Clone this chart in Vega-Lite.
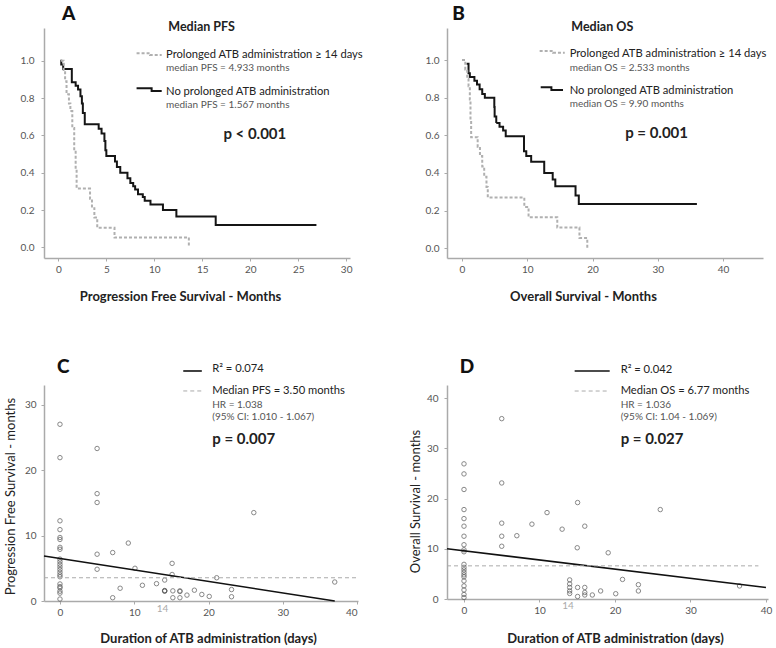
{
  "$schema": "https://vega.github.io/schema/vega-lite/v6.json",
  "autosize": "none",
  "padding": {"left": 44, "top": 28, "right": 732, "bottom": 620},
  "background": "white",
  "columns": 2,
  "spacing": {"row": 127, "column": 89},
  "bounds": "flush",
  "align": "each",
  "datasets": {
    "kmA": [
      {"grp": "no", "part": "curve", "x": 0.2, "y": 1.0},
      {"grp": "no", "part": "curve", "x": 0.3, "y": 0.98},
      {"grp": "no", "part": "curve", "x": 0.5, "y": 0.955},
      {"grp": "no", "part": "curve", "x": 1.4, "y": 0.885},
      {"grp": "no", "part": "curve", "x": 1.8, "y": 0.865},
      {"grp": "no", "part": "curve", "x": 2.05, "y": 0.845},
      {"grp": "no", "part": "curve", "x": 2.3, "y": 0.81},
      {"grp": "no", "part": "curve", "x": 2.45, "y": 0.77},
      {"grp": "no", "part": "curve", "x": 2.55, "y": 0.72},
      {"grp": "no", "part": "curve", "x": 2.75, "y": 0.66},
      {"grp": "no", "part": "curve", "x": 4.2, "y": 0.635},
      {"grp": "no", "part": "curve", "x": 4.5, "y": 0.61},
      {"grp": "no", "part": "curve", "x": 4.8, "y": 0.57},
      {"grp": "no", "part": "curve", "x": 4.9, "y": 0.52},
      {"grp": "no", "part": "curve", "x": 5.0, "y": 0.49},
      {"grp": "no", "part": "curve", "x": 5.9, "y": 0.46},
      {"grp": "no", "part": "curve", "x": 6.1, "y": 0.43},
      {"grp": "no", "part": "curve", "x": 6.45, "y": 0.4},
      {"grp": "no", "part": "curve", "x": 7.2, "y": 0.37},
      {"grp": "no", "part": "curve", "x": 7.5, "y": 0.345},
      {"grp": "no", "part": "curve", "x": 7.8, "y": 0.328},
      {"grp": "no", "part": "curve", "x": 8.0, "y": 0.31},
      {"grp": "no", "part": "curve", "x": 8.3, "y": 0.285},
      {"grp": "no", "part": "curve", "x": 8.8, "y": 0.27},
      {"grp": "no", "part": "curve", "x": 9.0, "y": 0.25},
      {"grp": "no", "part": "curve", "x": 9.6, "y": 0.23},
      {"grp": "no", "part": "curve", "x": 10.9, "y": 0.2},
      {"grp": "no", "part": "curve", "x": 12.3, "y": 0.165},
      {"grp": "no", "part": "curve", "x": 16.4, "y": 0.12},
      {"grp": "no", "part": "curve", "x": 26.9, "y": 0.12},
      {"grp": "yes", "part": "curve", "x": 0.25, "y": 1.0},
      {"grp": "yes", "part": "curve", "x": 0.55, "y": 0.95},
      {"grp": "yes", "part": "curve", "x": 0.7, "y": 0.89},
      {"grp": "yes", "part": "curve", "x": 0.85, "y": 0.82},
      {"grp": "yes", "part": "curve", "x": 1.1, "y": 0.77},
      {"grp": "yes", "part": "curve", "x": 1.25, "y": 0.73},
      {"grp": "yes", "part": "curve", "x": 1.45, "y": 0.64},
      {"grp": "yes", "part": "curve", "x": 1.65, "y": 0.52},
      {"grp": "yes", "part": "curve", "x": 1.8, "y": 0.42},
      {"grp": "yes", "part": "curve", "x": 1.9, "y": 0.315},
      {"grp": "yes", "part": "curve", "x": 3.3, "y": 0.26},
      {"grp": "yes", "part": "curve", "x": 3.5, "y": 0.21},
      {"grp": "yes", "part": "curve", "x": 3.75, "y": 0.16},
      {"grp": "yes", "part": "curve", "x": 4.05, "y": 0.105},
      {"grp": "yes", "part": "curve", "x": 5.85, "y": 0.053},
      {"grp": "yes", "part": "curve", "x": 13.6, "y": 0.0},
      {"grp": "yes", "part": "legend", "x": 8.15, "y": 1.04},
      {"grp": "yes", "part": "legend", "x": 9.55, "y": 1.03},
      {"grp": "yes", "part": "legend", "x": 10.77, "y": 1.03},
      {"grp": "no", "part": "legend", "x": 8.15, "y": 0.852},
      {"grp": "no", "part": "legend", "x": 9.72, "y": 0.838},
      {"grp": "no", "part": "legend", "x": 10.77, "y": 0.838}
    ],
    "kmB": [
      {"grp": "no", "part": "curve", "x": 0.7, "y": 0.98},
      {"grp": "no", "part": "curve", "x": 1.0, "y": 0.93},
      {"grp": "no", "part": "curve", "x": 1.2, "y": 0.91},
      {"grp": "no", "part": "curve", "x": 1.9, "y": 0.89},
      {"grp": "no", "part": "curve", "x": 2.3, "y": 0.87},
      {"grp": "no", "part": "curve", "x": 2.7, "y": 0.845},
      {"grp": "no", "part": "curve", "x": 3.1, "y": 0.82},
      {"grp": "no", "part": "curve", "x": 3.5, "y": 0.8},
      {"grp": "no", "part": "curve", "x": 4.95, "y": 0.75},
      {"grp": "no", "part": "curve", "x": 5.0, "y": 0.7},
      {"grp": "no", "part": "curve", "x": 5.25, "y": 0.665},
      {"grp": "no", "part": "curve", "x": 5.75, "y": 0.645},
      {"grp": "no", "part": "curve", "x": 6.3, "y": 0.625},
      {"grp": "no", "part": "curve", "x": 6.7, "y": 0.595},
      {"grp": "no", "part": "curve", "x": 9.5, "y": 0.515},
      {"grp": "no", "part": "curve", "x": 9.85, "y": 0.49},
      {"grp": "no", "part": "curve", "x": 10.6, "y": 0.46},
      {"grp": "no", "part": "curve", "x": 12.6, "y": 0.4},
      {"grp": "no", "part": "curve", "x": 13.9, "y": 0.365},
      {"grp": "no", "part": "curve", "x": 14.3, "y": 0.33},
      {"grp": "no", "part": "curve", "x": 17.4, "y": 0.28},
      {"grp": "no", "part": "curve", "x": 17.9, "y": 0.235},
      {"grp": "no", "part": "curve", "x": 36.0, "y": 0.235},
      {"grp": "yes", "part": "curve", "x": 0.0, "y": 1.0},
      {"grp": "yes", "part": "curve", "x": 0.5, "y": 0.95},
      {"grp": "yes", "part": "curve", "x": 0.8, "y": 0.9},
      {"grp": "yes", "part": "curve", "x": 1.0, "y": 0.86},
      {"grp": "yes", "part": "curve", "x": 1.2, "y": 0.79},
      {"grp": "yes", "part": "curve", "x": 1.3, "y": 0.68},
      {"grp": "yes", "part": "curve", "x": 1.4, "y": 0.59},
      {"grp": "yes", "part": "curve", "x": 2.4, "y": 0.54},
      {"grp": "yes", "part": "curve", "x": 2.75, "y": 0.49},
      {"grp": "yes", "part": "curve", "x": 3.1, "y": 0.435},
      {"grp": "yes", "part": "curve", "x": 3.4, "y": 0.38},
      {"grp": "yes", "part": "curve", "x": 3.75, "y": 0.325},
      {"grp": "yes", "part": "curve", "x": 3.95, "y": 0.27},
      {"grp": "yes", "part": "curve", "x": 9.55, "y": 0.22},
      {"grp": "yes", "part": "curve", "x": 10.2, "y": 0.165},
      {"grp": "yes", "part": "curve", "x": 14.6, "y": 0.11},
      {"grp": "yes", "part": "curve", "x": 18.0, "y": 0.055},
      {"grp": "yes", "part": "curve", "x": 19.2, "y": 0.0},
      {"grp": "yes", "part": "legend", "x": 11.9, "y": 1.048},
      {"grp": "yes", "part": "legend", "x": 13.95, "y": 1.039},
      {"grp": "yes", "part": "legend", "x": 15.75, "y": 1.039},
      {"grp": "no", "part": "legend", "x": 12.06, "y": 0.855},
      {"grp": "no", "part": "legend", "x": 13.7, "y": 0.841},
      {"grp": "no", "part": "legend", "x": 15.48, "y": 0.841}
    ],
    "scC": [
      {"x": 0, "y": 27.0}, {"x": 0, "y": 21.9}, {"x": 0, "y": 12.25}, {"x": 0, "y": 10.9},
      {"x": 0, "y": 9.7}, {"x": 0, "y": 9.4}, {"x": 0, "y": 8.2}, {"x": 0, "y": 7.9},
      {"x": 0, "y": 6.4}, {"x": 0, "y": 6.0}, {"x": 0, "y": 5.6}, {"x": 0, "y": 5.2},
      {"x": 0, "y": 4.8}, {"x": 0, "y": 4.4}, {"x": 0, "y": 4.0}, {"x": 0, "y": 3.7},
      {"x": 0, "y": 2.6}, {"x": 0, "y": 2.2}, {"x": 0, "y": 2.0}, {"x": 0, "y": 1.5},
      {"x": 0, "y": 1.2}, {"x": 0, "y": 0.3},
      {"x": 5, "y": 23.3}, {"x": 5, "y": 16.4}, {"x": 5, "y": 15.05}, {"x": 5, "y": 7.15}, {"x": 5, "y": 4.85},
      {"x": 7.1, "y": 7.4}, {"x": 7.1, "y": 0.5}, {"x": 8.1, "y": 1.95}, {"x": 9.2, "y": 8.85},
      {"x": 10.1, "y": 5.0}, {"x": 11.1, "y": 2.4}, {"x": 13.0, "y": 2.65}, {"x": 14.1, "y": 3.2},
      {"x": 14.1, "y": 1.55}, {"x": 14.1, "y": 1.5}, {"x": 14.1, "y": 1.6}, {"x": 15.1, "y": 5.75}, {"x": 15.1, "y": 4.05},
      {"x": 15.2, "y": 1.55}, {"x": 15.2, "y": 0.5}, {"x": 16.15, "y": 1.55}, {"x": 16.15, "y": 1.45},
      {"x": 16.15, "y": 0.5}, {"x": 17.1, "y": 0.9}, {"x": 18.1, "y": 1.65}, {"x": 19.1, "y": 1.0},
      {"x": 20.1, "y": 0.7}, {"x": 21.1, "y": 3.55}, {"x": 23.1, "y": 1.75}, {"x": 23.1, "y": 0.65},
      {"x": 26.1, "y": 13.5}, {"x": 37.0, "y": 2.9}
    ],
    "scD": [
      {"x": 0, "y": 26.9}, {"x": 0, "y": 24.9}, {"x": 0, "y": 21.8}, {"x": 0, "y": 17.8},
      {"x": 0, "y": 16.0}, {"x": 0, "y": 14.5}, {"x": 0, "y": 12.5}, {"x": 0, "y": 10.8},
      {"x": 0, "y": 9.8}, {"x": 0, "y": 9.4}, {"x": 0, "y": 6.9}, {"x": 0, "y": 6.3},
      {"x": 0, "y": 5.8}, {"x": 0, "y": 5.3}, {"x": 0, "y": 4.8}, {"x": 0, "y": 4.4},
      {"x": 0, "y": 3.6}, {"x": 0, "y": 2.6}, {"x": 0, "y": 1.8}, {"x": 0, "y": 0.9}, {"x": 0, "y": 0.3},
      {"x": 5, "y": 35.9}, {"x": 5, "y": 23.1}, {"x": 5, "y": 15.1}, {"x": 5, "y": 12.5}, {"x": 5, "y": 10.5},
      {"x": 7.0, "y": 12.6}, {"x": 9.0, "y": 14.9}, {"x": 11.0, "y": 17.2}, {"x": 13.0, "y": 13.9},
      {"x": 14.0, "y": 3.8}, {"x": 14.0, "y": 3.0}, {"x": 14.0, "y": 2.3}, {"x": 14.0, "y": 1.6}, {"x": 14.0, "y": 1.1},
      {"x": 15.05, "y": 19.2}, {"x": 15.0, "y": 10.2}, {"x": 15.05, "y": 2.3}, {"x": 15.05, "y": 0.5},
      {"x": 16.0, "y": 14.5}, {"x": 16.0, "y": 2.3}, {"x": 16.0, "y": 1.3}, {"x": 16.0, "y": 0.8},
      {"x": 17.0, "y": 0.8}, {"x": 18.1, "y": 1.6}, {"x": 19.1, "y": 9.2}, {"x": 20.1, "y": 1.05},
      {"x": 21.0, "y": 3.9}, {"x": 23.1, "y": 2.85}, {"x": 23.1, "y": 1.6}, {"x": 26.0, "y": 17.8}, {"x": 36.5, "y": 2.6}
    ],
    "fitC": [
      {"part": "fit", "x": -2.15, "y": 6.88}, {"part": "fit", "x": 37.0, "y": 0.0},
      {"part": "legend", "x": 16.6, "y": 35.14}, {"part": "legend", "x": 19.1, "y": 35.14}
    ],
    "medC": [
      {"part": "median", "x": -2.15, "y": 3.55}, {"part": "median", "x": 40.0, "y": 3.55},
      {"part": "legend", "x": 16.6, "y": 32.09}, {"part": "legend", "x": 19.1, "y": 32.09}
    ],
    "fitD": [
      {"part": "fit", "x": -2.25, "y": 10.0}, {"part": "fit", "x": 40.0, "y": 2.3},
      {"part": "legend", "x": 14.66, "y": 45.4}, {"part": "legend", "x": 19.3, "y": 45.4}
    ],
    "medD": [
      {"part": "median", "x": -2.25, "y": 6.6}, {"part": "median", "x": 39.0, "y": 6.6},
      {"part": "legend", "x": 14.66, "y": 41.4}, {"part": "legend", "x": 19.3, "y": 41.4}
    ]
  },
  "concat": [
    {
      "width": 306, "height": 230,
      "layer": [
        {
          "data": {"name": "kmA"},
          "mark": {"type": "line", "interpolate": "step-after", "strokeWidth": 2},
          "encoding": {
            "x": {"field": "x", "type": "quantitative", "scale": {"domain": [-1.5, 30.4], "nice": false, "zero": false},
                  "axis": {"values": [0, 5, 10, 15, 20, 25, 30], "title": "Progression Free Survival - Months", "titleX": 136, "titleY": 38, "titleAlign": "center", "titleBaseline": "middle"}},
            "y": {"field": "y", "type": "quantitative", "scale": {"domain": [-0.057, 1.175], "nice": false, "zero": false},
                  "axis": {"values": [0, 0.2, 0.4, 0.6, 0.8, 1.0], "format": ".1f", "title": null, "labelPadding": 7}},
            "detail": {"field": "part"},
            "color": {"field": "grp", "type": "nominal", "scale": {"domain": ["yes", "no"], "range": ["#b0b0b0", "#151515"]}, "legend": null},
            "strokeDash": {"field": "grp", "type": "nominal", "scale": {"domain": ["yes", "no"], "range": [[3, 2], [1, 0]]}, "legend": null}
          }
        },
        {
          "data": {"values": [{"label": "A", "x": 0.375, "y": 1.218}]},
          "mark": {"type": "text", "align": "left", "baseline": "alphabetic", "fontSize": 19, "fontWeight": 900, "color": "#111"},
          "encoding": {"x": {"field": "x", "type": "quantitative"}, "y": {"field": "y", "type": "quantitative"}, "text": {"field": "label"}}
        },
        {
          "data": {"values": [{"label": "Median PFS", "x": 11.46, "y": 1.182}]},
          "mark": {"type": "text", "align": "left", "baseline": "middle", "fontSize": 12.5, "fontWeight": "bold", "color": "#222"},
          "encoding": {"x": {"field": "x", "type": "quantitative"}, "y": {"field": "y", "type": "quantitative"}, "text": {"field": "label"}}
        },
        {
          "data": {"values": [{"label": "Prolonged ATB administration ≥ 14 days", "x": 11.22, "y": 1.031}, {"label": "No prolonged ATB administration", "x": 11.22, "y": 0.834}]},
          "mark": {"type": "text", "align": "left", "baseline": "middle", "fontSize": 11.2, "color": "#222"},
          "encoding": {"x": {"field": "x", "type": "quantitative"}, "y": {"field": "y", "type": "quantitative"}, "text": {"field": "label"}}
        },
        {
          "data": {"values": [{"label": "median PFS = 4.933 months", "x": 11.22, "y": 0.959}, {"label": "median PFS = 1.567 months", "x": 11.22, "y": 0.763}]},
          "mark": {"type": "text", "align": "left", "baseline": "middle", "fontSize": 10, "color": "#555"},
          "encoding": {"x": {"field": "x", "type": "quantitative"}, "y": {"field": "y", "type": "quantitative"}, "text": {"field": "label"}}
        },
        {
          "data": {"values": [{"label": "p < 0.001", "x": 17.2, "y": 0.606}]},
          "mark": {"type": "text", "align": "left", "baseline": "middle", "fontSize": 15, "fontWeight": "bold", "color": "#222"},
          "encoding": {"x": {"field": "x", "type": "quantitative"}, "y": {"field": "y", "type": "quantitative"}, "text": {"field": "label"}}
        }
      ]
    },
    {
      "width": 316, "height": 230,
      "layer": [
        {
          "data": {"name": "kmB"},
          "mark": {"type": "line", "interpolate": "step-after", "strokeWidth": 2},
          "encoding": {
            "x": {"field": "x", "type": "quantitative", "scale": {"domain": [-2.3, 46.13], "nice": false, "zero": false},
                  "axis": {"values": [0, 10, 20, 30, 40], "title": "Overall Survival - Months", "titleX": 136, "titleY": 38, "titleAlign": "center", "titleBaseline": "middle"}},
            "y": {"field": "y", "type": "quantitative", "scale": {"domain": [-0.0515, 1.17], "nice": false, "zero": false},
                  "axis": {"values": [0, 0.2, 0.4, 0.6, 0.8, 1.0], "format": ".1f", "title": null, "labelPadding": 5}},
            "detail": {"field": "part"},
            "color": {"field": "grp", "type": "nominal", "scale": {"domain": ["yes", "no"], "range": ["#b0b0b0", "#151515"]}, "legend": null},
            "strokeDash": {"field": "grp", "type": "nominal", "scale": {"domain": ["yes", "no"], "range": [[3, 2], [1, 0]]}, "legend": null}
          }
        },
        {
          "data": {"values": [{"label": "B", "x": -1.49, "y": 1.212}]},
          "mark": {"type": "text", "align": "left", "baseline": "alphabetic", "fontSize": 19, "fontWeight": 900, "color": "#111"},
          "encoding": {"x": {"field": "x", "type": "quantitative"}, "y": {"field": "y", "type": "quantitative"}, "text": {"field": "label"}}
        },
        {
          "data": {"values": [{"label": "Median OS", "x": 16.75, "y": 1.177}]},
          "mark": {"type": "text", "align": "left", "baseline": "middle", "fontSize": 12.5, "fontWeight": "bold", "color": "#222"},
          "encoding": {"x": {"field": "x", "type": "quantitative"}, "y": {"field": "y", "type": "quantitative"}, "text": {"field": "label"}}
        },
        {
          "data": {"values": [{"label": "Prolonged ATB administration ≥ 14 days", "x": 16.5, "y": 1.03}, {"label": "No prolonged ATB administration", "x": 16.5, "y": 0.837}]},
          "mark": {"type": "text", "align": "left", "baseline": "middle", "fontSize": 11.2, "color": "#222"},
          "encoding": {"x": {"field": "x", "type": "quantitative"}, "y": {"field": "y", "type": "quantitative"}, "text": {"field": "label"}}
        },
        {
          "data": {"values": [{"label": "median OS = 2.533 months", "x": 16.5, "y": 0.959}, {"label": "median OS = 9.90 months", "x": 16.5, "y": 0.765}]},
          "mark": {"type": "text", "align": "left", "baseline": "middle", "fontSize": 10, "color": "#555"},
          "encoding": {"x": {"field": "x", "type": "quantitative"}, "y": {"field": "y", "type": "quantitative"}, "text": {"field": "label"}}
        },
        {
          "data": {"values": [{"label": "p = 0.001", "x": 25.0, "y": 0.611}]},
          "mark": {"type": "text", "align": "left", "baseline": "middle", "fontSize": 15, "fontWeight": "bold", "color": "#222"},
          "encoding": {"x": {"field": "x", "type": "quantitative"}, "y": {"field": "y", "type": "quantitative"}, "text": {"field": "label"}}
        }
      ]
    },
    {
      "width": 314, "height": 216,
      "layer": [
        {
          "data": {"name": "scC"},
          "mark": {"type": "point", "shape": "circle", "filled": false, "size": 20, "strokeWidth": 1, "color": "#555"},
          "encoding": {
            "x": {"field": "x", "type": "quantitative", "scale": {"domain": [-2.15, 40.13], "nice": false, "zero": false},
                  "axis": {"values": [0, 10, 20, 30, 40], "title": "Duration of ATB administration (days)", "titleX": 164, "titleY": 37, "titleAlign": "center", "titleBaseline": "middle"}},
            "y": {"field": "y", "type": "quantitative", "scale": {"domain": [0, 33], "nice": false, "zero": false},
                  "axis": {"values": [0, 10, 20, 30], "title": "Progression Free Survival - months", "titleX": -34, "titleY": 111, "titleAlign": "center", "titleBaseline": "middle", "titleFontWeight": "normal", "labelPadding": 5}}
          }
        },
        {
          "data": {"name": "fitC"},
          "mark": {"type": "line", "color": "#111", "strokeWidth": 1.6},
          "encoding": {"x": {"field": "x", "type": "quantitative"}, "y": {"field": "y", "type": "quantitative"}, "detail": {"field": "part"}}
        },
        {
          "data": {"name": "medC"},
          "mark": {"type": "line", "color": "#aaaaaa", "strokeWidth": 1, "strokeDash": [4, 3]},
          "encoding": {"x": {"field": "x", "type": "quantitative"}, "y": {"field": "y", "type": "quantitative"}, "detail": {"field": "part"}}
        },
        {
          "data": {"values": [{"label": "C", "x": -0.4, "y": 34.84}]},
          "mark": {"type": "text", "align": "left", "baseline": "alphabetic", "fontSize": 19, "fontWeight": 900, "color": "#111"},
          "encoding": {"x": {"field": "x", "type": "quantitative"}, "y": {"field": "y", "type": "quantitative"}, "text": {"field": "label"}}
        },
        {
          "data": {"values": [{"label": "R² = 0.074", "x": 20.5, "y": 35.4}, {"label": "Median PFS = 3.50 months", "x": 20.5, "y": 32.09}]},
          "mark": {"type": "text", "align": "left", "baseline": "middle", "fontSize": 11.2, "color": "#222"},
          "encoding": {"x": {"field": "x", "type": "quantitative"}, "y": {"field": "y", "type": "quantitative"}, "text": {"field": "label"}}
        },
        {
          "data": {"values": [{"label": "HR = 1.038", "x": 20.5, "y": 29.95}, {"label": "(95% CI: 1.010 - 1.067)", "x": 20.5, "y": 28.07}]},
          "mark": {"type": "text", "align": "left", "baseline": "middle", "fontSize": 10, "color": "#555"},
          "encoding": {"x": {"field": "x", "type": "quantitative"}, "y": {"field": "y", "type": "quantitative"}, "text": {"field": "label"}}
        },
        {
          "data": {"values": [{"label": "p = 0.007", "x": 20.5, "y": 24.7}]},
          "mark": {"type": "text", "align": "left", "baseline": "middle", "fontSize": 15, "fontWeight": "bold", "color": "#222"},
          "encoding": {"x": {"field": "x", "type": "quantitative"}, "y": {"field": "y", "type": "quantitative"}, "text": {"field": "label"}}
        },
        {
          "data": {"values": [{"label": "14", "x": 13.8, "y": -1.15}]},
          "mark": {"type": "text", "align": "center", "baseline": "middle", "fontSize": 10, "color": "#aaaaaa"},
          "encoding": {"x": {"field": "x", "type": "quantitative"}, "y": {"field": "y", "type": "quantitative"}, "text": {"field": "label"}}
        }
      ]
    },
    {
      "width": 321, "height": 214,
      "layer": [
        {
          "data": {"name": "scD"},
          "mark": {"type": "point", "shape": "circle", "filled": false, "size": 20, "strokeWidth": 1, "color": "#555"},
          "encoding": {
            "x": {"field": "x", "type": "quantitative", "scale": {"domain": [-2.25, 40.27], "nice": false, "zero": false},
                  "axis": {"values": [0, 10, 20, 30, 40], "title": "Duration of ATB administration (days)", "titleX": 168, "titleY": 39, "titleAlign": "center", "titleBaseline": "middle"}},
            "y": {"field": "y", "type": "quantitative", "scale": {"domain": [0, 42.6], "nice": false, "zero": false},
                  "axis": {"values": [0, 10, 20, 30, 40], "title": "Overall  Survival - months", "titleX": -32, "titleY": 116, "titleAlign": "center", "titleBaseline": "middle", "titleFontWeight": "normal", "labelPadding": 6}}
          }
        },
        {
          "data": {"name": "fitD"},
          "mark": {"type": "line", "color": "#111", "strokeWidth": 1.6},
          "encoding": {"x": {"field": "x", "type": "quantitative"}, "y": {"field": "y", "type": "quantitative"}, "detail": {"field": "part"}}
        },
        {
          "data": {"name": "medD"},
          "mark": {"type": "line", "color": "#aaaaaa", "strokeWidth": 1, "strokeDash": [4, 3]},
          "encoding": {"x": {"field": "x", "type": "quantitative"}, "y": {"field": "y", "type": "quantitative"}, "detail": {"field": "part"}}
        },
        {
          "data": {"values": [{"label": "D", "x": -0.57, "y": 44.98}]},
          "mark": {"type": "text", "align": "left", "baseline": "alphabetic", "fontSize": 19, "fontWeight": 900, "color": "#111"},
          "encoding": {"x": {"field": "x", "type": "quantitative"}, "y": {"field": "y", "type": "quantitative"}, "text": {"field": "label"}}
        },
        {
          "data": {"values": [{"label": "R² = 0.042", "x": 20.75, "y": 45.6}, {"label": "Median OS = 6.77 months", "x": 20.75, "y": 41.4}]},
          "mark": {"type": "text", "align": "left", "baseline": "middle", "fontSize": 11.2, "color": "#222"},
          "encoding": {"x": {"field": "x", "type": "quantitative"}, "y": {"field": "y", "type": "quantitative"}, "text": {"field": "label"}}
        },
        {
          "data": {"values": [{"label": "HR = 1.036", "x": 20.75, "y": 38.6}, {"label": "(95% CI: 1.04  - 1.069)", "x": 20.75, "y": 36.2}]},
          "mark": {"type": "text", "align": "left", "baseline": "middle", "fontSize": 10, "color": "#555"},
          "encoding": {"x": {"field": "x", "type": "quantitative"}, "y": {"field": "y", "type": "quantitative"}, "text": {"field": "label"}}
        },
        {
          "data": {"values": [{"label": "p = 0.027", "x": 20.75, "y": 31.8}]},
          "mark": {"type": "text", "align": "left", "baseline": "middle", "fontSize": 15, "fontWeight": "bold", "color": "#222"},
          "encoding": {"x": {"field": "x", "type": "quantitative"}, "y": {"field": "y", "type": "quantitative"}, "text": {"field": "label"}}
        },
        {
          "data": {"values": [{"label": "14", "x": 13.77, "y": -1.43}]},
          "mark": {"type": "text", "align": "center", "baseline": "middle", "fontSize": 10, "color": "#aaaaaa"},
          "encoding": {"x": {"field": "x", "type": "quantitative"}, "y": {"field": "y", "type": "quantitative"}, "text": {"field": "label"}}
        }
      ]
    }
  ],
  "config": {
    "font": "Lato",
    "view": {"stroke": null},
    "axis": {
      "grid": false,
      "domainColor": "#aaaaaa",
      "domainWidth": 1.5,
      "tickColor": "#aaaaaa",
      "tickSize": 3,
      "labelColor": "#555555",
      "labelFontSize": 10,
      "labelPadding": 3,
      "titleColor": "#222222",
      "titleFontSize": 13,
      "titleFontWeight": "bold"
    }
  }
}
